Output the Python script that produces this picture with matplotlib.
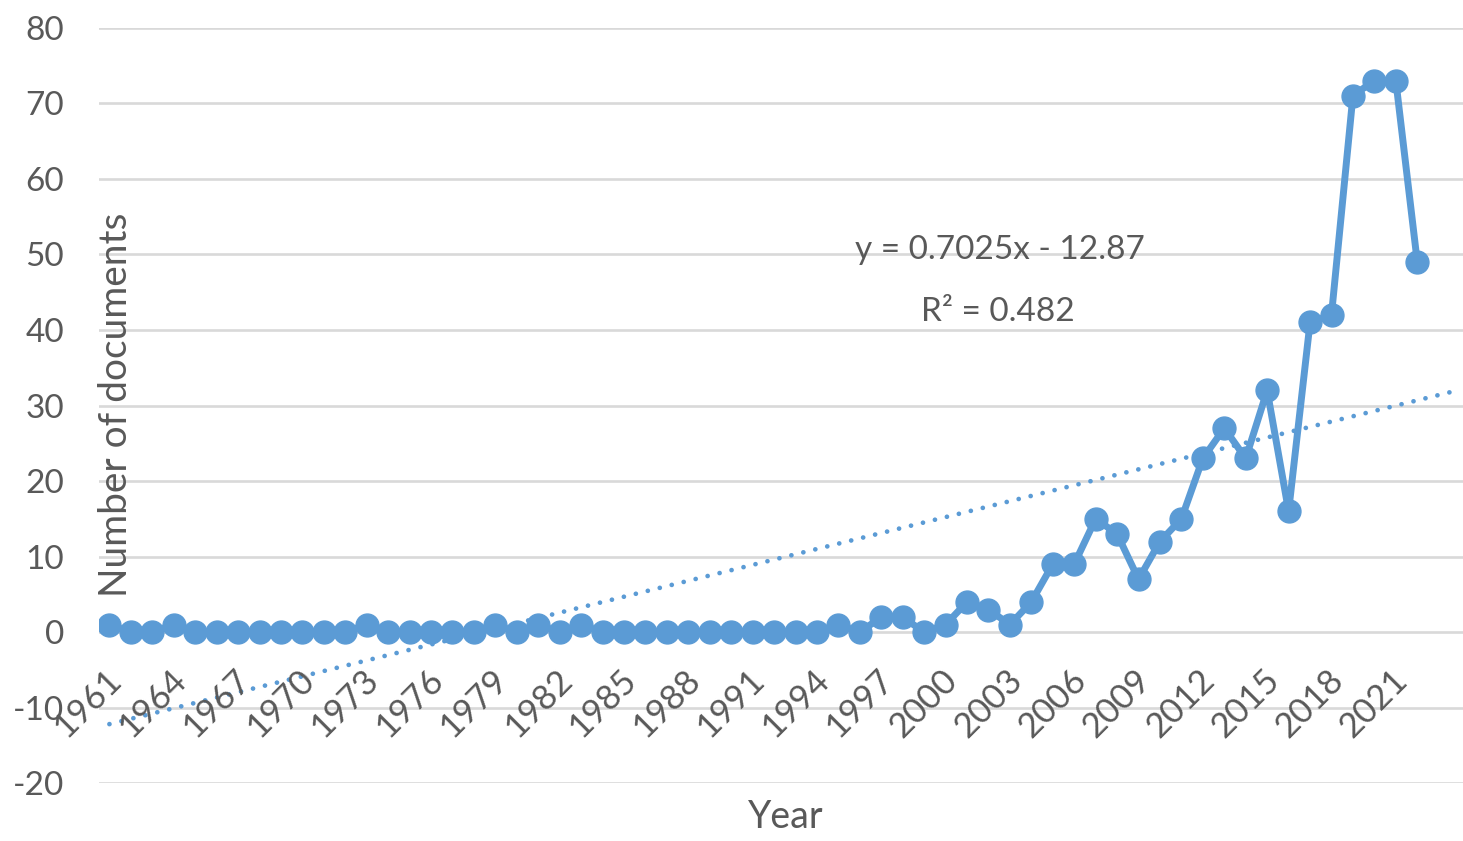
import matplotlib
matplotlib.use("Agg")
import matplotlib.pyplot as plt
import numpy as np

# documents per year, 1961-2022
years = list(range(1961, 2023))
docs = [1, 0, 0, 1, 0, 0, 0, 0, 0, 0,
        0, 0, 1, 0, 0, 0, 0, 0, 1, 0,
        1, 0, 1, 0, 0, 0, 0, 0, 0, 0,
        0, 0, 0, 0, 1, 0, 2, 2, 0, 1,
        4, 3, 1, 4, 9, 9, 15, 13, 7, 12,
        15, 23, 27, 23, 32, 16, 41, 42, 71, 73,
        73, 49]
forecast_forward = 2
eq_text = "y = 0.7025x - 12.87"
r2_text = "R² = 0.482"

blue = "#5B9BD5"
grey = "#595959"
plt.rcParams["font.family"] = ["Lato", "DejaVu Sans"]
plt.rcParams["axes.unicode_minus"] = False

W, H = 1463, 841
fig = plt.figure(figsize=(W / 100, H / 100), dpi=100)
step = 21.44
left_px, top_px, bot_px = 98.7, 27.7, 783.3
n_cat = len(years) + forecast_forward
ax = fig.add_axes([left_px / W, (H - bot_px) / H, n_cat * step / W, (bot_px - top_px) / H])

x = np.arange(1, len(years) + 1)
ax.plot(x, docs, color=blue, lw=5, marker="o", ms=16.5, zorder=3, solid_joinstyle="round")

# linear trendline (Excel style, x = 1..n) with forward forecast
slope, icpt = np.polyfit(x, docs, 1)
xt = np.array([1, len(years) + forecast_forward])
ax.plot(xt, slope * xt + icpt, color=blue, lw=3.4, ls=(0, (0.01, 2.6)),
        dash_capstyle="round", zorder=2)

ax.set_xlim(0.5, n_cat + 0.5)
ax.set_ylim(-20, 80)
ax.set_yticks(range(-20, 81, 10))
ax.yaxis.grid(True, color="#D9D9D9", lw=1.9)
ax.set_axisbelow(True)
for s in ax.spines.values():
    s.set_visible(False)
ax.tick_params(axis="y", length=0, pad=25, labelsize=24, labelcolor=grey)
ax.set_xticks([])

# category labels every 3 years, rotated, hanging from the zero line
for xi, yr in zip(x, years):
    if (yr - 1961) % 3:
        continue
    ax.annotate(str(yr), xy=(xi, 0), xytext=(5, -31), textcoords="offset points",
                rotation=45, rotation_mode="anchor", ha="right", va="center",
                fontsize=25, color=grey, annotation_clip=False)

fig.text(1000 / W, 1 - 250 / H, eq_text, ha="center", va="center", fontsize=24, color=grey)
fig.text(998 / W, 1 - 312 / H, r2_text, ha="center", va="center", fontsize=24, color=grey)

fig.text(786 / W, 1 - 817 / H, "Year", ha="center", va="center", fontsize=27, color=grey)
fig.text(116 / W, 1 - 405 / H, "Number of documents", rotation=90, ha="center",
         va="center", fontsize=28, color=grey)

fig.savefig("out.png", dpi=100)
